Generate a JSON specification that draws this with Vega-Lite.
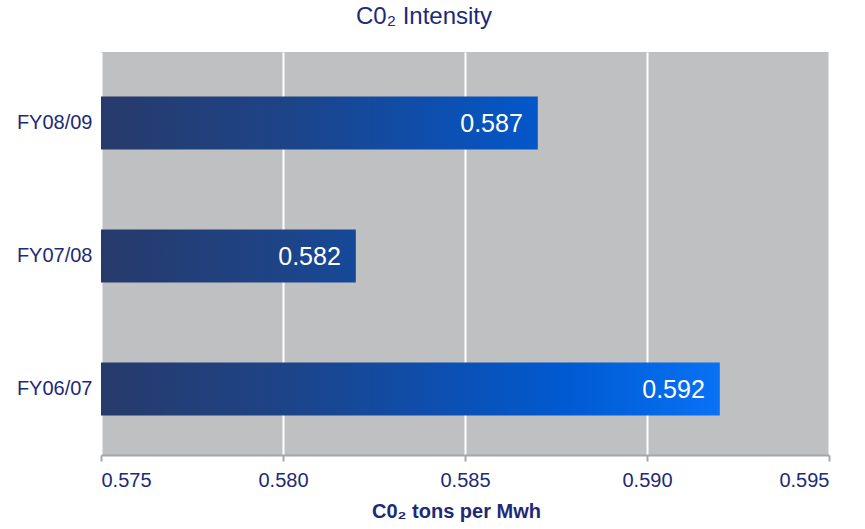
{
  "$schema": "https://vega.github.io/schema/vega-lite/v6.json",
  "autosize": "none",
  "width": 728,
  "height": 403,
  "padding": {"left": 101, "top": 52, "right": 36, "bottom": 74},
  "background": "white",
  "title": {
    "text": "C0₂ Intensity",
    "font": "Liberation Sans",
    "fontSize": 24,
    "fontWeight": "normal",
    "color": "#1d2a78",
    "anchor": "middle",
    "frame": "group",
    "dx": -41,
    "baseline": "alphabetic",
    "offset": 4
  },
  "config": {
    "view": {"fill": "#bfc0c2", "stroke": null},
    "font": "Liberation Sans"
  },
  "data": {
    "values": [
      {"year": "FY08/09", "intensity": 0.587},
      {"year": "FY07/08", "intensity": 0.582},
      {"year": "FY06/07", "intensity": 0.592}
    ]
  },
  "encoding": {
    "y": {
      "field": "year",
      "type": "nominal",
      "sort": ["FY08/09", "FY07/08", "FY06/07"],
      "scale": {"paddingInner": 0.6, "paddingOuter": 0.315, "align": 0.53},
      "axis": {
        "title": null,
        "domain": false,
        "ticks": false,
        "labelFontSize": 20,
        "labelColor": "#1d2a78",
        "labelPadding": 9
      }
    }
  },
  "layer": [
    {
      "mark": {"type": "bar", "orient": "horizontal"},
      "encoding": {
        "x": {
          "field": "intensity",
          "type": "quantitative",
          "scale": {"domain": [0.575, 0.595], "zero": false, "nice": false},
          "axis": {
            "values": [0.575, 0.58, 0.585, 0.59, 0.595],
            "format": ".3f",
            "title": "C0₂ tons per Mwh",
            "titleFontSize": 20,
            "titleFontWeight": "bold",
            "titleColor": "#1d2a78",
            "titlePadding": 11,
            "titleX": 355,
            "labelFontSize": 20,
            "labelColor": "#1d2a78",
            "labelPadding": 9,
            "domainColor": "#a5a6a8",
            "domainWidth": 2,
            "tickColor": "#a5a6a8",
            "tickWidth": 2,
            "tickSize": 6,
            "grid": true,
            "gridColor": "#ffffff",
            "gridWidth": 2
          }
        },
        "x2": {"datum": 0.575},
        "color": {
          "condition": [
            {
              "test": "datum.year === 'FY08/09'",
              "value": {
                "gradient": "linear",
                "x1": 0, "y1": 0, "x2": 1.4167, "y2": 0,
                "stops": [
                  {"offset": 0, "color": "#273a6b"},
                  {"offset": 0.3, "color": "#1d4488"},
                  {"offset": 0.55, "color": "#0d4fb0"},
                  {"offset": 0.75, "color": "#005ad2"},
                  {"offset": 1, "color": "#0872f5"}
                ]
              }
            },
            {
              "test": "datum.year === 'FY07/08'",
              "value": {
                "gradient": "linear",
                "x1": 0, "y1": 0, "x2": 2.4286, "y2": 0,
                "stops": [
                  {"offset": 0, "color": "#273a6b"},
                  {"offset": 0.3, "color": "#1d4488"},
                  {"offset": 0.55, "color": "#0d4fb0"},
                  {"offset": 0.75, "color": "#005ad2"},
                  {"offset": 1, "color": "#0872f5"}
                ]
              }
            }
          ],
          "value": {
            "gradient": "linear",
            "x1": 0, "y1": 0, "x2": 1, "y2": 0,
            "stops": [
              {"offset": 0, "color": "#273a6b"},
              {"offset": 0.3, "color": "#1d4488"},
              {"offset": 0.55, "color": "#0d4fb0"},
              {"offset": 0.75, "color": "#005ad2"},
              {"offset": 1, "color": "#0872f5"}
            ]
          }
        }
      }
    },
    {
      "mark": {
        "type": "text",
        "align": "right",
        "baseline": "middle",
        "dx": -15,
        "dy": 1,
        "fontSize": 25,
        "color": "white"
      },
      "encoding": {
        "x": {"field": "intensity", "type": "quantitative"},
        "text": {"field": "intensity", "type": "quantitative", "format": ".3f"}
      }
    }
  ]
}
